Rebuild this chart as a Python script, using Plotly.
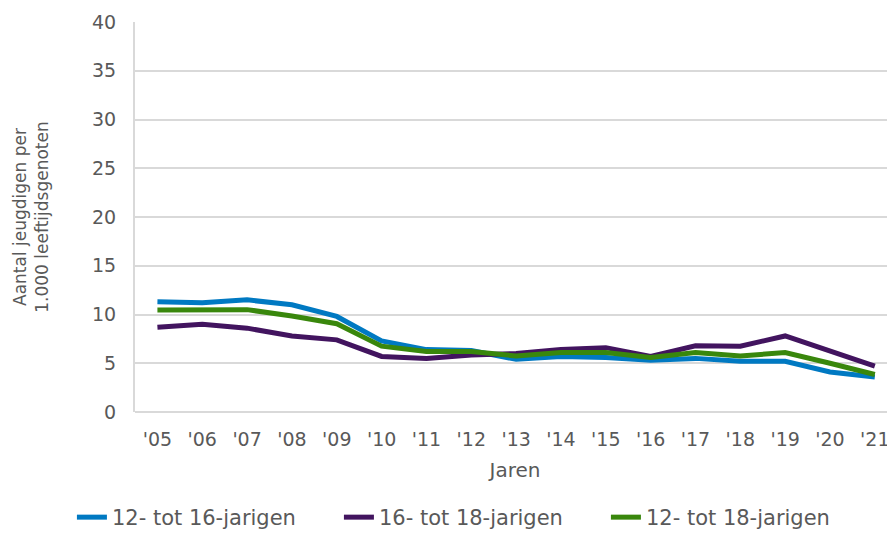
import plotly.graph_objects as go

# Jaren
jaren = ["'05", "'06", "'07", "'08", "'09", "'10", "'11", "'12", "'13",
         "'14", "'15", "'16", "'17", "'18", "'19", "'20", "'21"]

# Aantal jeugdigen per 1.000 leeftijdsgenoten
jong_12_16 = [11.3, 11.2, 11.5, 11.0, 9.8, 7.3, 6.4, 6.3, 5.4, 5.7, 5.6, 5.3, 5.5, 5.2, 5.2, 4.1, 3.6]
jong_16_18 = [8.7, 9.0, 8.6, 7.8, 7.4, 5.7, 5.5, 5.85, 6.0, 6.4, 6.6, 5.7, 6.8, 6.75, 7.8, 6.25, 4.7]
jong_12_18 = [10.45, 10.45, 10.5, 9.85, 9.05, 6.75, 6.2, 6.2, 5.75, 6.1, 6.1, 5.6, 6.1, 5.75, 6.1, 5.0, 3.85]

reeksen = [
    ("12- tot 16-jarigen", jong_12_16, "#0079C2"),
    ("16- tot 18-jarigen", jong_16_18, "#42145F"),
    ("12- tot 18-jarigen", jong_12_18, "#39870C"),
]

grijs = "#595959"

fig = go.Figure()
for naam, waarden, kleur in reeksen:
    fig.add_trace(go.Scatter(
        x=jaren, y=waarden, name=naam, mode="lines",
        line=dict(color=kleur, width=5),
    ))

# de pagina heeft 8px marge rondom, dus de figuur iets kleiner (geen scrollbars)
fig.update_layout(
    width=887, height=530,
    plot_bgcolor="white", paper_bgcolor="white",
    font=dict(family="DejaVu Sans", size=18, color=grijs),
    margin=dict(l=127, r=0, t=14, b=126),
    showlegend=True,
    legend=dict(orientation="h", x=-0.083, xanchor="left",
                y=-0.272, yanchor="middle",
                font=dict(size=21, color=grijs), entrywidth=222, entrywidthmode="pixels",
                tracegroupgap=0),
    xaxis=dict(
        title=dict(text="Jaren", standoff=13, font=dict(size=20)),
        range=[-0.5, 16.45], showgrid=False, showline=False, ticks="",
        tickfont=dict(size=19), ticklabelstandoff=14, ticklabeloverflow="allow",
        automargin=False,
    ),
    yaxis=dict(
        title=dict(text="Aantal jeugdigen per<br>1.000 leeftijdsgenoten", standoff=39,
                   font=dict(size=17)),
        range=[0, 40], dtick=5, showgrid=True, gridcolor="#D9D9D9", gridwidth=1.5,
        showline=True, linecolor="#D9D9D9", linewidth=2, zeroline=True,
        zerolinecolor="#D9D9D9", zerolinewidth=1.5, ticks="", ticklabelstandoff=13,
        tickfont=dict(size=19), automargin=False,
    ),
)

fig.write_html("out.html")
